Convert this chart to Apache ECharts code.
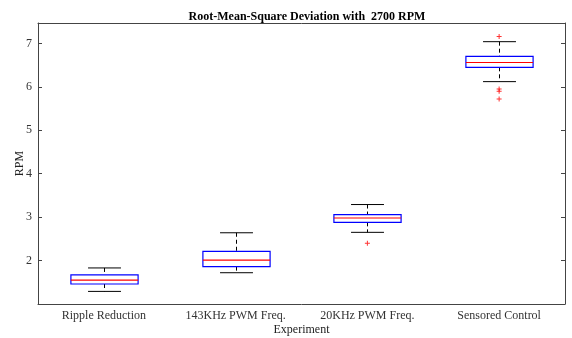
<!DOCTYPE html>
<html>
<head>
<meta charset="utf-8">
<script src="https://cdn.jsdelivr.net/npm/echarts@6/dist/echarts.min.js"></script>
<style>
  html, body { margin: 0; padding: 0; background: #fff; }
  #chart { width: 572px; height: 338px; }
</style>
</head>
<body>
<div id="chart"></div>
<script>
const categories = ['Ripple Reduction', '143KHz PWM Freq.', '20KHz PWM Freq.', 'Sensored Control']
const lowerWhisker = [1.29, 1.72, 2.65, 6.12]
const q1 = [1.46, 1.86, 2.88, 6.45]
const median = [1.55, 2.01, 2.98, 6.56]
const q3 = [1.67, 2.21, 3.06, 6.70]
const upperWhisker = [1.83, 2.64, 3.29, 7.04]
// [category index, value]
const outliers = [[2, 2.40], [3, 7.16], [3, 5.95], [3, 5.90], [3, 5.72]]
const yTicks = [1, 2, 3, 4, 5, 6, 7]

const font = 'Liberation Serif, Times New Roman, serif'
const axisColor = '#444'

const boxData = categories.map((c, i) => [i, lowerWhisker[i], q1[i], median[i], q3[i], upperWhisker[i]])

function renderBox(params, api) {
  const i = api.value(0)
  const band = api.size([1, 0])[0]
  const boxW = band * 0.51
  const capW = band * 0.25
  const pLow = api.coord([i, api.value(1)])
  const pQ1 = api.coord([i, api.value(2)])
  const pMed = api.coord([i, api.value(3)])
  const pQ3 = api.coord([i, api.value(4)])
  const pHigh = api.coord([i, api.value(5)])
  const x = Math.round(pMed[0]) + 0.5
  const dash = { stroke: '#000', lineWidth: 1, lineDash: [4, 3] }
  const solid = { stroke: '#000', lineWidth: 1 }
  return {
    type: 'group',
    children: [
      { type: 'line', shape: { x1: x, y1: pHigh[1], x2: x, y2: pQ3[1] }, style: dash },
      { type: 'line', shape: { x1: x, y1: pQ1[1], x2: x, y2: pLow[1] }, style: dash },
      { type: 'line', shape: { x1: x - capW / 2, y1: pHigh[1], x2: x + capW / 2, y2: pHigh[1] }, style: solid },
      { type: 'line', shape: { x1: x - capW / 2, y1: pLow[1], x2: x + capW / 2, y2: pLow[1] }, style: solid },
      { type: 'rect', shape: { x: x - boxW / 2, y: pQ3[1], width: boxW, height: pQ1[1] - pQ3[1] },
        style: { fill: 'none', stroke: '#0000ff', lineWidth: 1.2 } },
      { type: 'line', shape: { x1: x - boxW / 2, y1: pMed[1], x2: x + boxW / 2, y2: pMed[1] },
        style: { stroke: '#ff0000', lineWidth: 1.2 } }
    ]
  }
}

const chart = echarts.init(document.getElementById('chart'))
chart.setOption({
  animation: false,
  title: {
    text: 'Root-Mean-Square Deviation with  2700 RPM',
    left: 302,
    textAlign: 'center',
    top: 6,
    textStyle: { fontFamily: font, fontSize: 12, fontWeight: 'bold', color: '#000' }
  },
  grid: { left: 38, right: 7, top: 23, bottom: 34, containLabel: false, outerBoundsMode: 'none' },
  xAxis: [
    {
      type: 'category',
      data: categories,
      name: 'Experiment',
      nameLocation: 'middle',
      nameGap: 20,
      nameMoveOverlap: false,
      nameTextStyle: { fontFamily: font, fontSize: 12, color: '#222' },
      axisLine: { lineStyle: { color: axisColor } },
      axisTick: { inside: true, alignWithLabel: true, length: 4, lineStyle: { color: axisColor } },
      axisLabel: { fontFamily: font, fontSize: 12, color: '#333', margin: 6 },
      splitLine: { show: false }
    },
    {
      type: 'category',
      data: categories,
      position: 'top',
      axisLine: { lineStyle: { color: axisColor } },
      axisTick: { inside: true, alignWithLabel: true, length: 4, lineStyle: { color: axisColor } },
      axisLabel: { show: false }
    }
  ],
  yAxis: [
    {
      type: 'value',
      min: 1,
      max: 7.47,
      interval: 1,
      name: 'RPM',
      nameLocation: 'middle',
      nameGap: 12,
      nameMoveOverlap: false,
      nameTextStyle: { fontFamily: font, fontSize: 12, color: '#222' },
      axisLine: { show: true, lineStyle: { color: axisColor } },
      axisTick: { show: true, inside: true, length: 4, lineStyle: { color: axisColor } },
      axisLabel: {
        fontFamily: font, fontSize: 12, color: '#333', margin: 6,
        formatter: v => (yTicks.indexOf(v) > 0 ? String(v) : '')
      },
      splitLine: { show: false }
    },
    {
      type: 'value',
      min: 1,
      max: 7.47,
      interval: 1,
      position: 'right',
      axisLine: { show: true, lineStyle: { color: axisColor } },
      axisTick: { show: true, inside: true, length: 4, lineStyle: { color: axisColor } },
      axisLabel: { show: false },
      splitLine: { show: false }
    }
  ],
  series: [
    {
      type: 'custom',
      renderItem: renderBox,
      data: boxData,
      encode: { x: 0, y: [1, 2, 3, 4, 5] }
    },
    {
      type: 'scatter',
      data: outliers,
      symbol: 'path://M2,0H3V2H5V3H3V5H2V3H0V2H2Z',
      symbolSize: 5,
      itemStyle: { color: '#ff0000' }
    }
  ]
})
</script>
</body>
</html>
